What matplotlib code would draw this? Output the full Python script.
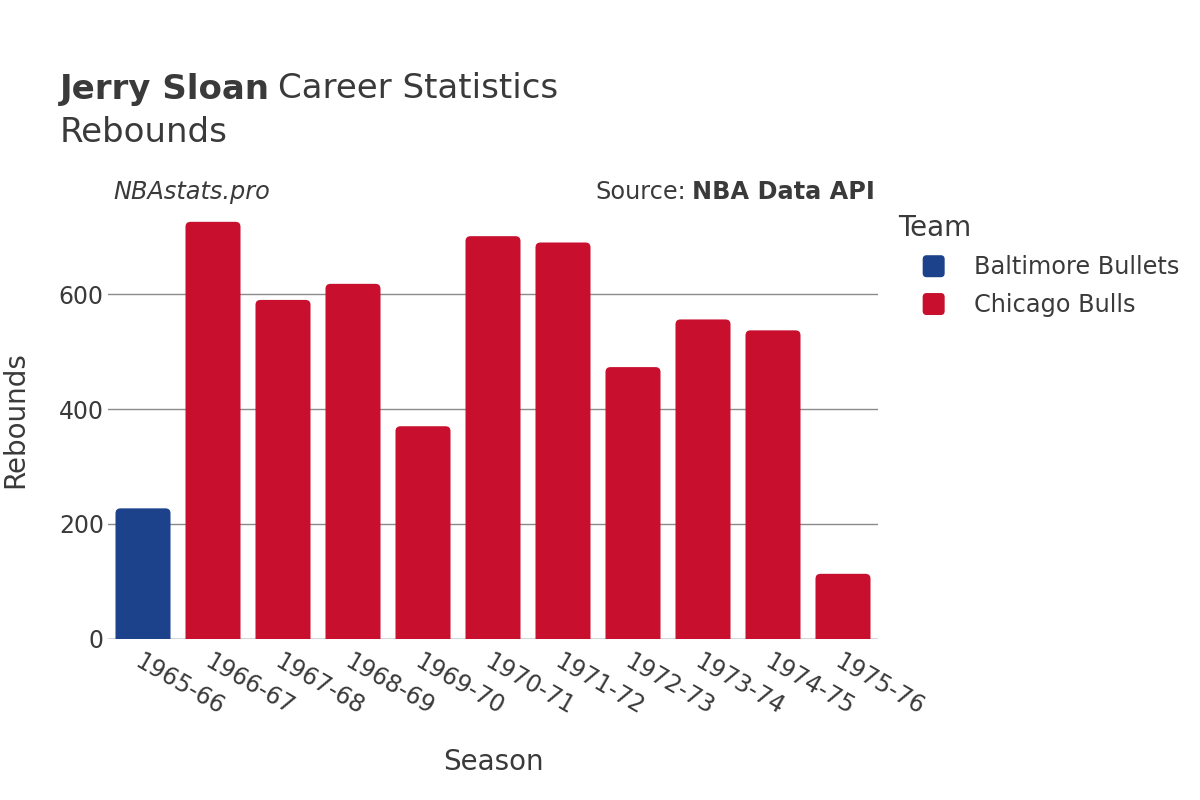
import matplotlib
matplotlib.use("Agg")
import matplotlib.pyplot as plt
from matplotlib.patches import FancyBboxPatch, Rectangle
from matplotlib.legend_handler import HandlerBase

seasons = ["1965-66", "1966-67", "1967-68", "1968-69", "1969-70", "1970-71",
           "1971-72", "1972-73", "1973-74", "1974-75", "1975-76"]
rebounds = [227, 726, 590, 618, 370, 701, 690, 473, 556, 537, 113]
teams = ["Baltimore Bullets"] + ["Chicago Bulls"] * 10
team_colors = {"Baltimore Bullets": "#1b428a", "Chicago Bulls": "#c8102e"}
yticks = [0, 200, 400, 600]

TXT = "#3a3a3a"
plt.rcParams["font.family"] = ["DejaVu Sans"]

W, H = 1200, 800
fig = plt.figure(figsize=(12, 8), dpi=100)
ax = fig.add_axes([108 / W, 1 - 638.7 / H, 770 / W, 438.7 / H])
ax.set_xlim(-0.5, len(seasons) - 0.5)
ax.set_ylim(0, 764)

bw = 0.786
ppx = 770 / len(seasons)
ppy = 438.7 / 764
r_px = 5
bars = ax.bar(range(len(seasons)), rebounds, width=bw,
              color=[team_colors[t] for t in teams], alpha=0)
for b, t in zip(bars, teams):
    x0, w, h = b.get_x(), b.get_width(), b.get_height()
    pad = r_px / ppx
    p = FancyBboxPatch((x0 + pad, -20), w - 2 * pad, h + 20 - r_px / ppy,
                       boxstyle=f"round,pad={pad},rounding_size={pad}",
                       mutation_aspect=ppx / ppy,
                       facecolor=team_colors[t], edgecolor="none", zorder=3)
    ax.add_patch(p)

ax.set_yticks(yticks)
ax.set_yticklabels([str(v) for v in yticks], fontsize=17, color=TXT)
ax.grid(axis="y", color="#8a8a8a", linewidth=1, zorder=0)
ax.axhline(0, color="#e6e6e6", linewidth=2, zorder=1)
for s in ax.spines.values():
    s.set_visible(False)
ax.tick_params(axis="y", length=0, pad=3)
ax.set_xticks(range(len(seasons)))
ax.set_xticklabels(seasons, rotation=-30, ha="left", va="top", rotation_mode="anchor",
                   fontsize=17, color=TXT)
ax.tick_params(axis="x", length=0, pad=8)

ax.set_ylabel("Rebounds", fontsize=20, color=TXT)
ax.yaxis.set_label_coords(-0.1026, 0.5)
ax.set_xlabel("Season", fontsize=20, color=TXT)
ax.xaxis.set_label_coords(0.5, -0.249)

renderer = fig.canvas.get_renderer()
t1 = fig.text(60 / W, 1 - 89 / H, "Jerry Sloan", fontsize=24.5, fontweight="bold",
              color=TXT, va="center")
bb = t1.get_window_extent(renderer)
fig.text((bb.x1 + 8) / W, 1 - 89 / H, "Career Statistics", fontsize=24.5, color=TXT, va="center")
fig.text(60 / W, 1 - 132 / H, "Rebounds", fontsize=24.5, color=TXT, va="center")
fig.text(113 / W, 1 - 192 / H, "NBAstats.pro", fontsize=17.3, style="italic", color=TXT, va="center")
t2 = fig.text(875 / W, 1 - 192 / H, "NBA Data API", fontsize=17.3, fontweight="bold",
              color=TXT, va="center", ha="right")
bb2 = t2.get_window_extent(renderer)
fig.text((bb2.x0 - 6) / W, 1 - 192 / H, "Source:", fontsize=17.3, color=TXT, va="center", ha="right")


class RoundSquareHandler(HandlerBase):
    def create_artists(self, legend, orig_handle, xdescent, ydescent, width, height,
                       fontsize, trans):
        s = 22 * 72 / 100
        cx = width / 2 - xdescent
        cy = height / 2 - ydescent
        r = 4 * 72 / 100
        p = FancyBboxPatch((cx - s / 2 + r, cy - s / 2 + r), s - 2 * r, s - 2 * r,
                           boxstyle=f"round,pad={r},rounding_size={r}",
                           facecolor=orig_handle.get_facecolor(), edgecolor="none",
                           transform=trans)
        return [p]


handles = [Rectangle((0, 0), 1, 1, facecolor=team_colors[k]) for k in team_colors]
leg = fig.legend(handles, list(team_colors.keys()), title="Team", loc="upper left",
                 bbox_to_anchor=(876 / W, 1 - 192 / H), frameon=False, fontsize=17.3,
                 title_fontsize=20, labelcolor=TXT, handlelength=3.0, handleheight=1.0,
                 handletextpad=0.17, labelspacing=0.575,
                 handler_map={Rectangle: RoundSquareHandler()})
leg.get_title().set_color(TXT)
leg._legend_box.align = "left"

fig.savefig("out.png", dpi=100, facecolor="white")
